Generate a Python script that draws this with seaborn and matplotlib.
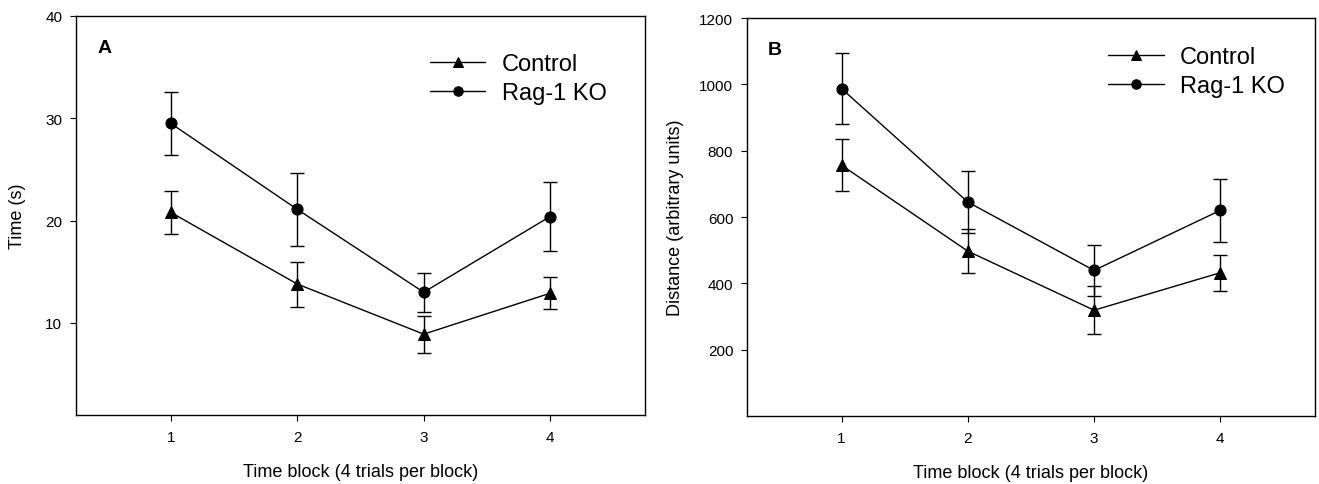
import numpy as np
import pandas as pd
import matplotlib
matplotlib.use("Agg")
import matplotlib.pyplot as plt
import seaborn as sns

blocks = [1, 2, 3, 4]
groups = ["Control", "Rag-1 KO"]

# Panel A: time (s), mean and SE
time_control = [20.8, 13.8, 8.9, 12.9]
time_control_se = [2.1, 2.2, 1.8, 1.55]
time_rag = [29.5, 21.1, 13.0, 20.4]
time_rag_se = [3.1, 3.6, 1.9, 3.4]

# Panel B: distance (arbitrary units), mean and SE
dist_control = [756, 497, 319, 432]
dist_control_se = [78, 67, 72, 54]
dist_rag = [987, 645, 439, 620]
dist_rag_se = [107, 93, 77, 94]

sns.set_style("ticks")
plt.rcParams["font.family"] = ["Liberation Sans", "DejaVu Sans"]
plt.rcParams["xtick.direction"] = "out"
plt.rcParams["ytick.direction"] = "out"
for key in ["text.color", "axes.labelcolor", "xtick.color", "ytick.color",
            "axes.edgecolor"]:
    plt.rcParams[key] = "black"

fig = plt.figure(figsize=(13.19, 4.85), dpi=100)
axA = fig.add_axes([0.0576, 0.1423, 0.4314, 0.8227])
axB = fig.add_axes([0.5663, 0.1402, 0.4306, 0.8206])


def make_df(ctrl, ctrl_se, rag, rag_se):
    return pd.DataFrame({
        "block": blocks * 2,
        "value": ctrl + rag,
        "se": ctrl_se + rag_se,
        "group": [groups[0]] * 4 + [groups[1]] * 4,
    })


def draw(ax, df, ylim, yticks, ylabel, letter, leg_xy, ylabelpad):
    sns.lineplot(data=df, x="block", y="value", style="group",
                 style_order=groups, markers={"Control": "^", "Rag-1 KO": "o"},
                 dashes=False, color="black", linewidth=1.0, markersize=8,
                 markeredgecolor="black", ax=ax)
    for g in groups:
        d = df[df["group"] == g]
        ax.errorbar(d["block"], d["value"], yerr=d["se"], fmt="none",
                    ecolor="black", elinewidth=1.0, capsize=5, capthick=1.0)
    ax.set_xlim(0.25, 4.75)
    ax.set_ylim(*ylim)
    ax.set_xticks(blocks)
    ax.set_yticks(yticks)
    ax.tick_params(axis="both", labelsize=11, length=4.3, width=0.8)
    ax.tick_params(axis="y", pad=5.5)
    ax.tick_params(axis="x", pad=6.5)
    for s in ax.spines.values():
        s.set_visible(True)
        s.set_linewidth(1.0)
    ax.set_xlabel("Time block (4 trials per block)", fontsize=13, labelpad=14)
    ax.set_ylabel(ylabel, fontsize=13, labelpad=ylabelpad)
    ax.text(0.037, 0.92, letter, transform=ax.transAxes, fontsize=14,
            fontweight="bold", va="center")
    sns.move_legend(ax, "upper left", bbox_to_anchor=leg_xy, title=None,
                    frameon=False, fontsize=17, handlelength=2.35,
                    labelspacing=0.3, borderpad=0, borderaxespad=0,
                    handletextpad=0.7, markerscale=0.85)


draw(axA, make_df(time_control, time_control_se, time_rag, time_rag_se),
     (1, 40), [10, 20, 30, 40], "Time (s)", "A", (0.622, 0.907), 14)
draw(axB, make_df(dist_control, dist_control_se, dist_rag, dist_rag_se),
     (0, 1200), [200, 400, 600, 800, 1000, 1200], "Distance (arbitrary units)",
     "B", (0.636, 0.93), 11)

fig.savefig("out.png", dpi=100)
